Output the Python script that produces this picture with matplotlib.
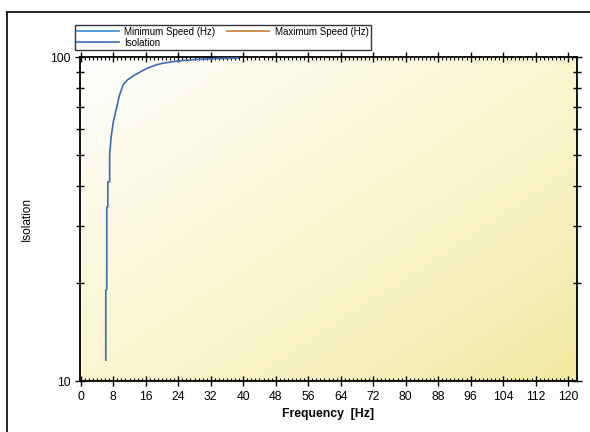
import numpy as np
import matplotlib
matplotlib.use('Agg')
import matplotlib.pyplot as plt
from matplotlib.colors import LinearSegmentedColormap
from matplotlib.ticker import MultipleLocator, FixedLocator, NullFormatter
from matplotlib.lines import Line2D

plt.rcParams['font.family'] = ['Liberation Sans', 'DejaVu Sans']

# isolation curve (stepped near the start)
freq = [6.15, 6.15, 6.4, 6.4, 6.65, 6.65, 7.1, 7.1, 7.5, 8.0, 8.8, 9.5,
        10.4, 11.5, 13.3, 15.0, 16.5, 18.5, 20.2, 23.9, 27.0, 30.8, 34.0, 38.7]
isolation = [11.6, 19.1, 19.2, 34.4, 34.5, 41.1, 41.2, 50.0, 57.0, 63.0, 69.6, 76.0,
             82.0, 85.0, 88.0, 90.5, 92.5, 94.5, 95.7, 97.2, 98.0, 98.6, 99.0, 99.3]

x_ticks = list(range(0, 121, 8))
legend_labels = ['Minimum Speed (Hz)', 'Isolation', 'Maximum Speed (Hz)']
legend_colors = ['#3d8fd6', '#3a6cb8', '#c87a35']

fig = plt.figure(figsize=(5.9, 4.32), dpi=100)
ax = fig.add_axes([80/590, 1-381/432, 497/590, 324/432])

# pale yellow gradient background, whiter at top left
cmap = LinearSegmentedColormap.from_list(
    'bg', [(0, '#ffffff'), (0.25, '#fcfae6'), (0.5, '#faf6d0'), (0.75, '#f7f1c0'), (1, '#f1e9a0')])
gx, gy = np.meshgrid(np.linspace(0, 1, 200), np.linspace(0, 1, 200))
grad = (gx + gy) / 2
ax.imshow(grad, cmap=cmap, extent=[0, 1, 0, 1], transform=ax.transAxes,
          aspect='auto', zorder=0, origin='upper')

ax.plot(freq, isolation, color='#3a6cb8', lw=1.2, zorder=3)

ax.set_yscale('log')
ax.set_ylim(10, 100)
ax.set_xlim(-0.2, 122.2)
ax.xaxis.set_major_locator(FixedLocator(x_ticks))
ax.xaxis.set_minor_locator(MultipleLocator(1))
ax.yaxis.set_major_locator(FixedLocator([10, 100]))
ax.yaxis.set_minor_locator(FixedLocator([20, 30, 40, 50, 60, 70, 80, 90]))
ax.yaxis.set_major_formatter(plt.FuncFormatter(lambda v, p: '%d' % v))
ax.yaxis.set_minor_formatter(NullFormatter())

ax.tick_params(axis='both', which='major', direction='inout', length=7, width=1,
               labelsize=8.8, top=True, right=True, colors='black')
ax.tick_params(axis='x', which='minor', direction='in', length=2.5, width=0.8, top=True)
ax.tick_params(axis='y', which='minor', direction='inout', length=6, width=1, right=True)
for s in ax.spines.values():
    s.set_linewidth(1.3)

ax.set_xlabel('Frequency  [Hz]', fontsize=8.8, fontweight='bold', labelpad=4)
ax.set_ylabel('Isolation', fontsize=8.5, labelpad=12)

handles = [Line2D([], [], color=c, lw=1.2) for c in legend_colors]
leg = fig.legend(handles, legend_labels, ncol=2, loc='upper left',
                 bbox_to_anchor=(70/590, 1-20/432), fontsize=7,
                 frameon=True, fancybox=False, edgecolor='black',
                 borderpad=0.2, labelspacing=0.1, handlelength=4.3,
                 columnspacing=1.2, handletextpad=0.6)
leg.get_frame().set_linewidth(1.0)

# outer frame lines
fig.add_artist(Line2D([7/590, 7/590], [0, 1-12/432], color='black', lw=1.2,
                      transform=fig.transFigure))
fig.add_artist(Line2D([7/590, 1], [1-12/432, 1-12/432], color='black', lw=1.2,
                      transform=fig.transFigure))

fig.savefig('out.png', dpi=100)
